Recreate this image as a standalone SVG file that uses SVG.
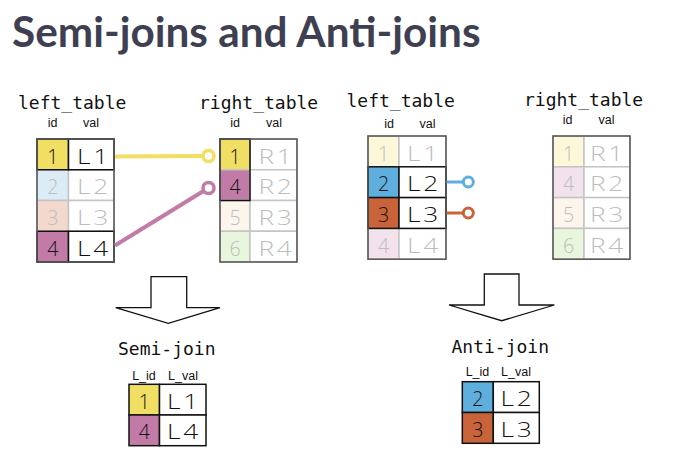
<svg xmlns="http://www.w3.org/2000/svg" width="691" height="463" viewBox="0 0 691 463">
<style>
.title{font-family:Lato,"Liberation Sans",sans-serif;font-weight:bold;font-size:42.3px;fill:#3e4052}
.mono{font-family:"DejaVu Sans Mono","Liberation Mono",monospace;font-size:18px;fill:#111}
.hd{font-family:"Liberation Sans",Arial,sans-serif;font-size:12.5px;fill:#111;text-anchor:middle}
.num{font-family:"Open Sans","Liberation Sans",sans-serif;font-weight:300;font-size:19.5px;text-anchor:middle}
.val{font-family:"Open Sans","Liberation Sans",sans-serif;font-weight:300;font-size:19.5px;text-anchor:middle;letter-spacing:2px}
.on{fill:#111}
.off{fill:#bdbdbd}
.cg{stroke:#c4c4c4;stroke-width:1.5}
.cb{stroke:#111;stroke-width:1.5}
.frame{fill:none;stroke:#555;stroke-width:1.5}
.arrow{fill:#fff;stroke:#111;stroke-width:1.3;stroke-linejoin:miter}
.ylw{fill:#f1df64}.pur{fill:#c27ba6}.blu{fill:#5eaede}.org{fill:#c8633a}
.fylw{fill:#fdf7da}.fblu{fill:#dcecf6}.forg{fill:#f3d9cd}.fpur{fill:#f2e2ec}.fbei{fill:#fcf5ec}.fgrn{fill:#e8f6dd}
.wh{fill:#fff}
</style>

<text class="title" x="12" y="47">Semi-joins and Anti-joins</text>

<!-- Semi-join left table -->
<g id="semi-left-table">
<text class="mono" x="18" y="109">left_table</text>
<text class="hd" x="52.5" y="127">id</text>
<text class="hd" x="91" y="127">val</text>
<rect class="cg fblu" x="37" y="169.75" width="31.5" height="30.75"/>
<rect class="cg wh" x="68.5" y="169.75" width="45.5" height="30.75"/>
<rect class="cg forg" x="37" y="200.5" width="31.5" height="30.75"/>
<rect class="cg wh" x="68.5" y="200.5" width="45.5" height="30.75"/>
<rect class="cb ylw" x="37" y="139" width="31.5" height="30.75"/>
<rect class="cb wh" x="68.5" y="139" width="45.5" height="30.75"/>
<rect class="cb pur" x="37" y="231.25" width="31.5" height="30.75"/>
<rect class="cb wh" x="68.5" y="231.25" width="45.5" height="30.75"/>
<rect class="frame" x="37" y="139" width="77" height="123"/>
<text class="num on" x="52.75" y="163.5">1</text>
<text class="num off" x="52.75" y="194.25">2</text>
<text class="num off" x="52.75" y="225">3</text>
<text class="num on" x="52.75" y="255.75">4</text>
<text class="val on" transform="translate(94 163.5) scale(1.35 1)">L1</text>
<text class="val off" transform="translate(94 194.25) scale(1.35 1)">L2</text>
<text class="val off" transform="translate(94 225) scale(1.35 1)">L3</text>
<text class="val on" transform="translate(94 255.75) scale(1.35 1)">L4</text>
</g>

<!-- Semi-join right table -->
<g id="semi-right-table">
<text class="mono" x="199" y="109">right_table</text>
<text class="hd" x="235" y="127">id</text>
<text class="hd" x="274" y="127">val</text>
<rect class="cg ylw" x="220" y="139" width="30" height="30.75"/>
<rect class="cg wh" x="250" y="139" width="47" height="30.75"/>
<rect class="cg pur" x="220" y="169.75" width="30" height="30.75"/>
<rect class="cg wh" x="250" y="169.75" width="47" height="30.75"/>
<rect class="cg fbei" x="220" y="200.5" width="30" height="30.75"/>
<rect class="cg wh" x="250" y="200.5" width="47" height="30.75"/>
<rect class="cg fgrn" x="220" y="231.25" width="30" height="30.75"/>
<rect class="cg wh" x="250" y="231.25" width="47" height="30.75"/>
<path d="M220 139H250V200.5H220Z" fill="none" stroke="#111" stroke-width="1.5"/>
<rect class="frame" x="220" y="139" width="77" height="123"/>
<text class="num on" x="235" y="163.5">1</text>
<text class="num on" x="235" y="194.25">4</text>
<text class="num off" x="235" y="225">5</text>
<text class="num off" x="235" y="255.75">6</text>
<text class="val off" transform="translate(276.5 163.5) scale(1.35 1)">R1</text>
<text class="val off" transform="translate(276.5 194.25) scale(1.35 1)">R2</text>
<text class="val off" transform="translate(276.5 225) scale(1.35 1)">R3</text>
<text class="val off" transform="translate(276.5 255.75) scale(1.35 1)">R4</text>
</g>

<!-- Anti-join left table -->
<g id="anti-left-table">
<text class="mono" x="346.5" y="106.5">left_table</text>
<text class="hd" x="389" y="128">id</text>
<text class="hd" x="427.5" y="128">val</text>
<rect class="cg fylw" x="368" y="136" width="31" height="30.8"/>
<rect class="cg wh" x="399" y="136" width="47" height="30.8"/>
<rect class="cg fpur" x="368" y="228.4" width="31" height="30.8"/>
<rect class="cg wh" x="399" y="228.4" width="47" height="30.8"/>
<rect class="cb blu" x="368" y="166.8" width="31" height="30.8"/>
<rect class="cb wh" x="399" y="166.8" width="47" height="30.8"/>
<rect class="cb org" x="368" y="197.6" width="31" height="30.8"/>
<rect class="cb wh" x="399" y="197.6" width="47" height="30.8"/>
<rect class="frame" x="368" y="136" width="78" height="123.2"/>
<text class="num off" x="383.5" y="160.5">1</text>
<text class="num on" x="383.5" y="191.3">2</text>
<text class="num on" x="383.5" y="222.1">3</text>
<text class="num off" x="383.5" y="252.9">4</text>
<text class="val off" transform="translate(424 160.5) scale(1.35 1)">L1</text>
<text class="val on" transform="translate(424 191.3) scale(1.35 1)">L2</text>
<text class="val on" transform="translate(424 222.1) scale(1.35 1)">L3</text>
<text class="val off" transform="translate(424 252.9) scale(1.35 1)">L4</text>
</g>

<!-- Anti-join right table -->
<g id="anti-right-table">
<text class="mono" x="524" y="106">right_table</text>
<text class="hd" x="567.5" y="124">id</text>
<text class="hd" x="606.5" y="124">val</text>
<rect class="cg fylw" x="553" y="136" width="31" height="30.8"/>
<rect class="cg wh" x="584" y="136" width="46" height="30.8"/>
<rect class="cg fpur" x="553" y="166.8" width="31" height="30.8"/>
<rect class="cg wh" x="584" y="166.8" width="46" height="30.8"/>
<rect class="cg fbei" x="553" y="197.6" width="31" height="30.8"/>
<rect class="cg wh" x="584" y="197.6" width="46" height="30.8"/>
<rect class="cg fgrn" x="553" y="228.4" width="31" height="30.8"/>
<rect class="cg wh" x="584" y="228.4" width="46" height="30.8"/>
<rect class="frame" x="553" y="136" width="77" height="123.2"/>
<text class="num off" x="568.5" y="160.5">1</text>
<text class="num off" x="568.5" y="191.3">4</text>
<text class="num off" x="568.5" y="222.1">5</text>
<text class="num off" x="568.5" y="252.9">6</text>
<text class="val off" transform="translate(608 160.5) scale(1.35 1)">R1</text>
<text class="val off" transform="translate(608 191.3) scale(1.35 1)">R2</text>
<text class="val off" transform="translate(608 222.1) scale(1.35 1)">R3</text>
<text class="val off" transform="translate(608 252.9) scale(1.35 1)">R4</text>
</g>

<!-- Connectors -->
<g id="connectors" fill="none" stroke-linecap="butt">
<line x1="115" y1="156.5" x2="202" y2="156" stroke="#f1df64" stroke-width="4"/>
<circle cx="208.5" cy="156" r="5.5" fill="#fff" stroke="#f1df64" stroke-width="3.5"/>
<line x1="115" y1="245.5" x2="203.5" y2="191" stroke="#c27ba6" stroke-width="4"/>
<circle cx="208.5" cy="188" r="5.5" fill="#fff" stroke="#c27ba6" stroke-width="3.5"/>
<line x1="446.5" y1="182" x2="463" y2="182" stroke="#5eaede" stroke-width="3"/>
<circle cx="468.3" cy="182" r="5" fill="#fff" stroke="#5eaede" stroke-width="3"/>
<line x1="446.5" y1="213" x2="463" y2="213" stroke="#c8633a" stroke-width="3"/>
<circle cx="468.3" cy="213" r="5" fill="#fff" stroke="#c8633a" stroke-width="3"/>
</g>

<!-- Arrows -->
<g id="semi-arrow">
<polygon class="arrow" points="151,276.7 186.7,276.7 186.7,307.7 220,307.7 168.3,323.3 115.7,307.7 151,307.7"/>
</g>
<g id="anti-arrow">
<polygon class="arrow" points="484.3,274 519,274 519,305 554.3,305 501.7,320.7 449,305 484.3,305"/>
</g>

<!-- Semi-join result -->
<g id="semi-result">
<text class="mono" x="118" y="355">Semi-join</text>
<text class="hd" x="144" y="379.5">L_id</text>
<text class="hd" x="183" y="379.5">L_val</text>
<rect class="cb ylw" x="129" y="384.3" width="30.5" height="30.7"/>
<rect class="cb wh" x="159.5" y="384.3" width="46.5" height="30.7"/>
<rect class="cb pur" x="129" y="415" width="30.5" height="30.7"/>
<rect class="cb wh" x="159.5" y="415" width="46.5" height="30.7"/>
<text class="num on" x="144.25" y="408.5">1</text>
<text class="num on" x="144.25" y="439.2">4</text>
<text class="val on" transform="translate(184 408.5) scale(1.35 1)">L1</text>
<text class="val on" transform="translate(184 439.2) scale(1.35 1)">L4</text>
</g>

<!-- Anti-join result -->
<g id="anti-result">
<text class="mono" x="451.5" y="352.7">Anti-join</text>
<text class="hd" x="477.5" y="376">L_id</text>
<text class="hd" x="516" y="376">L_val</text>
<rect class="cb blu" x="462.3" y="381.7" width="31" height="30.8"/>
<rect class="cb wh" x="493.3" y="381.7" width="46" height="30.8"/>
<rect class="cb org" x="462.3" y="412.5" width="31" height="30.8"/>
<rect class="cb wh" x="493.3" y="412.5" width="46" height="30.8"/>
<text class="num on" x="477.8" y="406">2</text>
<text class="num on" x="477.8" y="436.8">3</text>
<text class="val on" transform="translate(517.5 406) scale(1.35 1)">L2</text>
<text class="val on" transform="translate(517.5 436.8) scale(1.35 1)">L3</text>
</g>
</svg>
